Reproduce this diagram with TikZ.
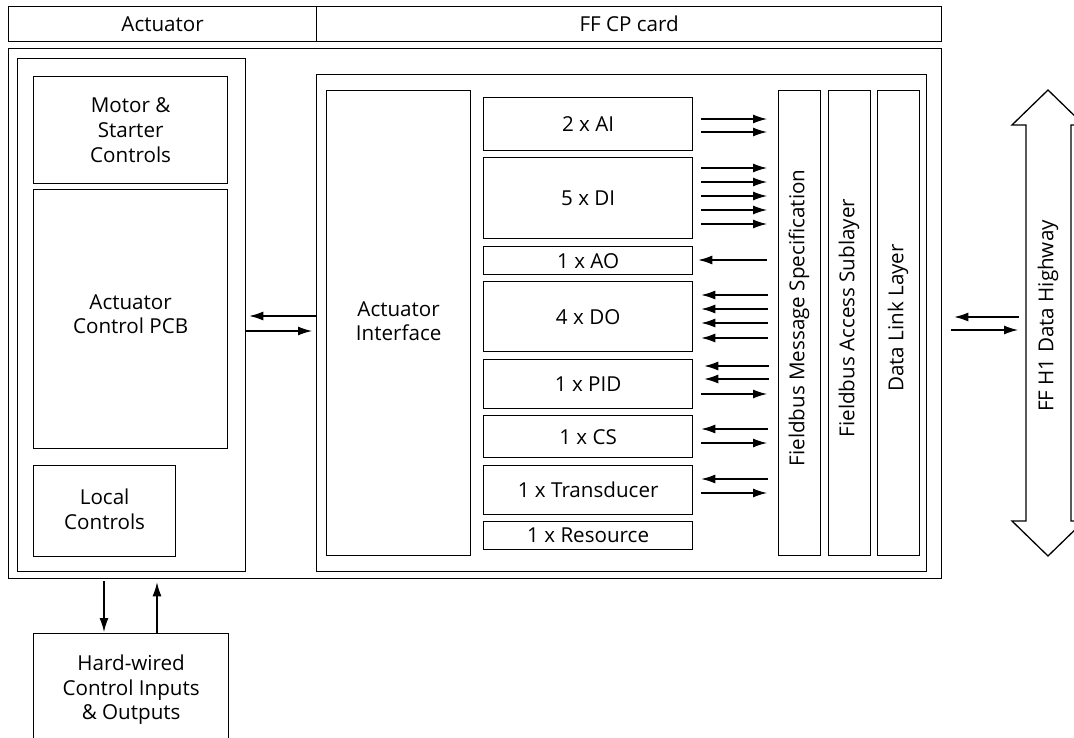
\documentclass[tikz,border=0pt]{standalone}
\usepackage{fontspec}
\setmainfont{Open Sans}
\usetikzlibrary{arrows.meta}
\tikzset{
  box/.style={draw, line width=1.3pt, inner sep=0pt, align=center, anchor=north west},
  lbl/.style={font=\fontsize{20.6}{24.8}\selectfont, align=center, inner sep=0pt},
  arr/.style={line width=1.3pt, -{Latex[length=14pt,width=9pt]}},
}
\begin{document}
\begin{tikzpicture}[x=1pt,y=-1pt]
\clip (0,0) rectangle (1074,738);
\fill[white] (0,0) rectangle (1074,738);
% header
\node[box, minimum width=308pt, minimum height=35pt, lbl] (hdrA) at (8,6) {Actuator};
\node[box, minimum width=625pt, minimum height=35pt, lbl] (hdrB) at (316,6) {FF CP card};
% outer frames
\node[box, minimum width=933pt, minimum height=530pt] (outer) at (8,48) {};
\node[box, minimum width=228pt, minimum height=513pt] (act) at (17,58) {};
\node[box, minimum width=194pt, minimum height=107pt, lbl] (motor) at (33,76) {Motor \&\\Starter\\Controls};
\node[box, minimum width=194pt, minimum height=259pt] (pcb) at (33,189) {};
\node[lbl] (pcbt) at ([yshift=5pt]pcb.center) {Actuator\\Control PCB};
\node[box, minimum width=142pt, minimum height=91pt] (local) at (33,465) {};
\node[lbl] (localt) at ([yshift=2pt]local.center) {Local\\Controls};
\node[box, minimum width=610pt, minimum height=497pt] (card) at (316,74) {};
\node[box, minimum width=144pt, minimum height=465pt] (aif) at (326,90) {};
\node[lbl] (aift) at ([yshift=2pt]aif.center) {Actuator\\Interface};
% function blocks
\node[box, minimum width=209pt, minimum height=53pt, lbl] (ai) at (483,97) {2 x AI};
\node[box, minimum width=209pt, minimum height=81pt, lbl] (di) at (483,157) {5 x DI};
\node[box, minimum width=209pt, minimum height=28pt, lbl] (ao) at (483,246) {1 x AO};
\node[box, minimum width=209pt, minimum height=70pt, lbl] (do) at (483,281) {4 x DO};
\node[box, minimum width=209pt, minimum height=49pt, lbl] (pid) at (483,359) {1 x PID};
\node[box, minimum width=209pt, minimum height=42pt, lbl] (cs) at (483,415) {1 x CS};
\node[box, minimum width=209pt, minimum height=49pt, lbl] (tr) at (483,465) {1 x Transducer};
\node[box, minimum width=209pt, minimum height=28pt, lbl] (res) at (483,521) {1 x Resource};
% layers
\node[box, minimum width=42pt, minimum height=465pt] (fms) at (778,90) {};
\node[box, minimum width=42pt, minimum height=465pt] (fas) at (828,90) {};
\node[box, minimum width=42pt, minimum height=465pt] (dll) at (877,90) {};
\node[lbl, rotate=90] (fmst) at (799,318) {Fieldbus Message Specification};
\node[lbl, rotate=90] (fast) at (849,318) {Fieldbus Access Sublayer};
\node[lbl, rotate=90] (dllt) at (898,318) {Data Link Layer};
% hard-wired
\node[box, minimum width=195pt, minimum height=112pt, lbl] (hw) at (33,633) {Hard-wired\\Control Inputs\\\& Outputs};
% highway
\draw[line width=1.3pt] (1048,90) -- (1084,125) -- (1071,125) -- (1071,521) -- (1084,521) -- (1048,556)
  -- (1012,521) -- (1026,521) -- (1026,125) -- (1012,125) -- cycle;
\coordinate (hwyL) at (1026,318);
\node[lbl, rotate=90] (hwy) at (1048,316) {FF H1 Data Highway};
% arrows function blocks -> FMS
\foreach \y in {119,132} \draw[arr, shorten <=8pt, shorten >=11pt] (ai.east |- 0,\y) -- (fms.west |- 0,\y);
\foreach \y in {168,182,196,210,224} \draw[arr, shorten <=8pt, shorten >=11pt] (di.east |- 0,\y) -- (fms.west |- 0,\y);
\draw[arr, shorten <=11pt, shorten >=5pt] (fms.west |- 0,260) -- (ao.east |- 0,260);
\foreach \y in {295,309,323,338} \draw[arr, shorten <=10pt, shorten >=8pt] (fms.west |- 0,\y) -- (do.east |- 0,\y);
\foreach \y in {366,379} \draw[arr, shorten <=9pt, shorten >=11pt] (fms.west |- 0,\y) -- (pid.east |- 0,\y);
\draw[arr, shorten <=8pt, shorten >=11pt] (pid.east |- 0,394) -- (fms.west |- 0,394);
\draw[arr, shorten <=10pt, shorten >=8pt] (fms.west |- 0,429) -- (cs.east |- 0,429);
\draw[arr, shorten <=8pt, shorten >=11pt] (cs.east |- 0,443) -- (fms.west |- 0,443);
\draw[arr, shorten <=10pt, shorten >=8pt] (fms.west |- 0,479) -- (tr.east |- 0,479);
\draw[arr, shorten <=8pt, shorten >=11pt] (tr.east |- 0,493) -- (fms.west |- 0,493);
% actuator <-> card
\draw[arr, shorten >=3pt] (card.west |- 0,316) -- (act.east |- 0,316);
\draw[arr, shorten >=4pt] (act.east |- 0,331) -- (card.west |- 0,331);
% card <-> highway
\draw[arr, shorten <=7pt, shorten >=12pt] (hwyL |- 0,317) -- (outer.east |- 0,317);
\draw[arr, shorten <=9pt, shorten >=8pt] (outer.east |- 0,330) -- (hwyL |- 0,330);
% actuator <-> hard-wired
\draw[arr, shorten <=2pt, shorten >=1pt] (outer.south -| 104,0) -- (hw.north -| 104,0);
\draw[arr, shorten >=3pt] (hw.north -| 157,0) -- (outer.south -| 157,0);
\end{tikzpicture}
\end{document}
